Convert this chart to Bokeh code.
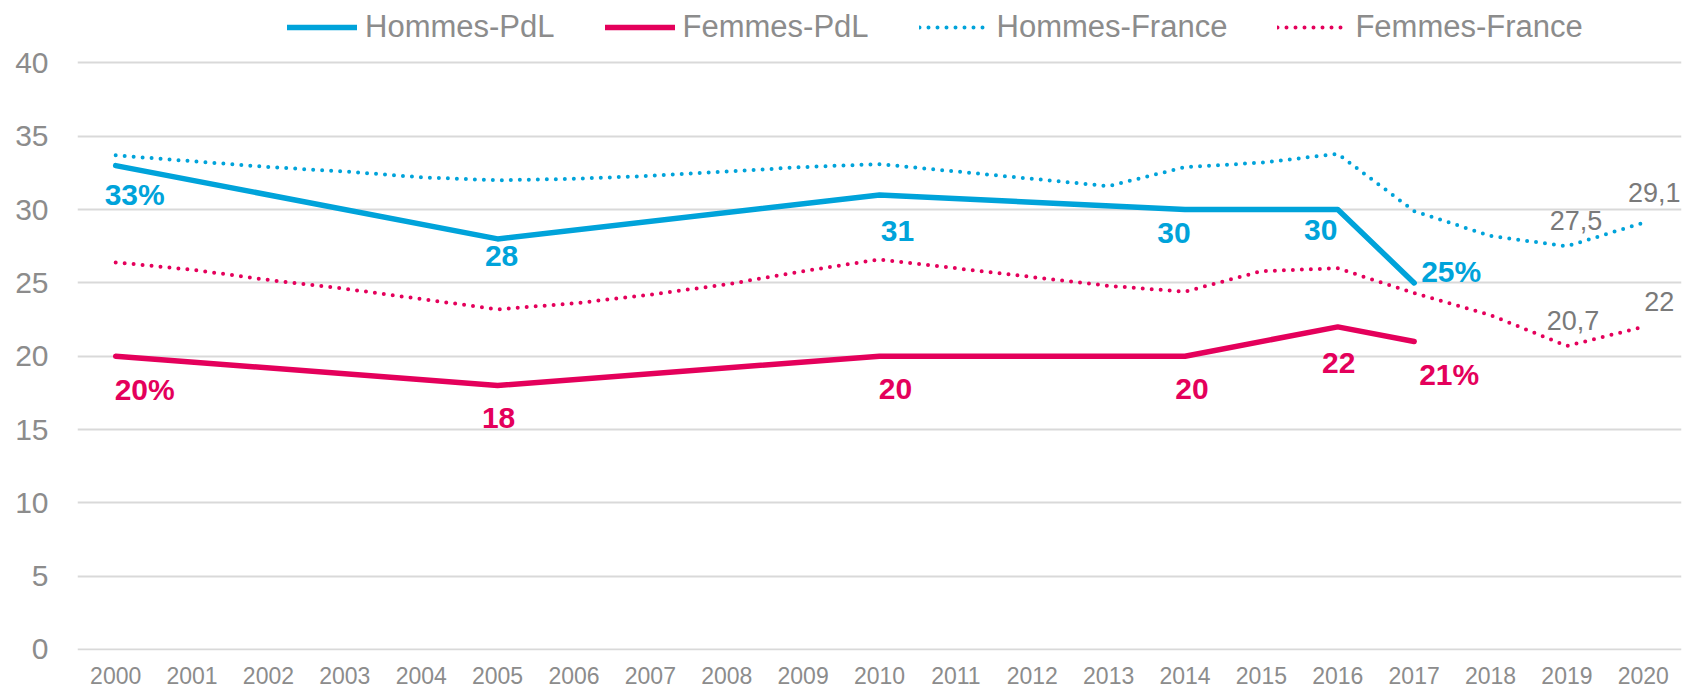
from bokeh.plotting import figure
from bokeh.models import FactorRange, Range1d, FixedTicker, Legend, LegendItem, ColumnDataSource
from bokeh.core.properties import value
from bokeh.embed import file_html
from bokeh.resources import INLINE

# ---------------- data ----------------
years = ["2000", "2001", "2002", "2003", "2004", "2005", "2006", "2007", "2008", "2009", "2010",
         "2011", "2012", "2013", "2014", "2015", "2016", "2017", "2018", "2019", "2020"]

pdl_years = ["2000", "2005", "2010", "2014", "2016", "2017"]
hommes_pdl = [33, 28, 31, 30, 30, 25]
femmes_pdl = [20, 18, 20, 20, 22, 21]

hommes_france = [33.7, 33.3, 32.9, 32.6, 32.2, 32.0, 32.1, 32.3, 32.6, 32.9, 33.1,
                 32.6, 32.1, 31.6, 32.9, 33.2, 33.8, 29.9, 28.2, 27.5, 29.1]
femmes_france = [26.4, 25.9, 25.2, 24.6, 23.9, 23.2, 23.6, 24.2, 24.9, 25.8, 26.6,
                 26.0, 25.4, 24.8, 24.4, 25.8, 26.0, 24.3, 22.8, 20.7, 22.0]

hommes_pdl_labels = ["33%", "28", "31", "30", "30", "25%"]
femmes_pdl_labels = ["20%", "18", "20", "20", "22", "21%"]

france_label_years = ["2019", "2020"]
hommes_france_labels = ["27,5", "29,1"]
hommes_france_label_values = [27.5, 29.1]
femmes_france_labels = ["20,7", "22"]
femmes_france_label_values = [20.7, 22.0]

y_ticks = [0, 5, 10, 15, 20, 25, 30, 35, 40]

# ---------------- styles ----------------
BLUE = "#00A3DA"
PINK = "#E4005B"
AXIS_GRAY = "#8C8C8C"
LABEL_GRAY = "#7A7A7A"
FONT = "Liberation Sans"

# label offsets (screen px, x right, y down)
hp_xo = [19, 4, 18, -11, -17, 37]
hp_yo = [29, 17, 36, 23, 20, -11]
fp_xo = [29, 1, 16, 7, 1, 35]
fp_yo = [33, 32, 33, 33, 36, 33]
hf_xo = [9, 11]
hf_yo = [-26, -30]
ff_xo = [6, 16]
ff_yo = [-25, -25]

# frame spans the whole height above the x axis; the space above 40 hosts the legend
p = figure(width=1682, height=689,
           x_range=FactorRange(factors=years, range_padding=0),
           y_range=Range1d(-0.07, 44.26),
           output_backend="svg", toolbar_location=None,
           min_border_left=77, min_border_right=1, min_border_top=0, min_border_bottom=39)
p.outline_line_color = None
p.background_fill_color = "white"
p.border_fill_color = "white"

p.xgrid.grid_line_color = None
p.ygrid.grid_line_color = "#D9D9D9"
p.ygrid.grid_line_width = 2
p.yaxis.ticker = FixedTicker(ticks=y_ticks)

for ax in (p.xaxis[0], p.yaxis[0]):
    ax.axis_line_color = None
    ax.major_tick_line_color = None
    ax.minor_tick_line_color = None
    ax.major_tick_out = 0
    ax.major_tick_in = 0
    ax.major_label_text_color = AXIS_GRAY
    ax.major_label_text_font = FONT
p.yaxis.major_label_text_font_size = "30px"
p.yaxis.major_label_standoff = 29
p.xaxis.major_label_text_font_size = "23px"
p.xaxis.major_label_standoff = 16

r_hf = p.line(x=years, y=hommes_france, line_color=BLUE, line_width=4,
              line_dash="0 9", line_cap="round")
r_ff = p.line(x=years, y=femmes_france, line_color=PINK, line_width=4,
              line_dash="0 9", line_cap="round")
r_hp = p.line(x=pdl_years, y=hommes_pdl, line_color=BLUE, line_width=5.5,
              line_join="round", line_cap="round")
r_fp = p.line(x=pdl_years, y=femmes_pdl, line_color=PINK, line_width=5.5,
              line_join="round", line_cap="round")


def add_labels(xs, ys, texts, xo, yo, color, bold, size):
    src = ColumnDataSource(dict(x=xs, y=ys, text=texts, xo=xo, yo=yo))
    p.text(x="x", y="y", text="text", x_offset="xo", y_offset="yo", source=src,
           text_align="center", text_baseline="middle",
           text_font=value(FONT), text_font_style="bold" if bold else "normal",
           text_font_size=size, text_color=color)


add_labels(pdl_years, hommes_pdl, hommes_pdl_labels, hp_xo, hp_yo, BLUE, True, "30px")
add_labels(pdl_years, femmes_pdl, femmes_pdl_labels, fp_xo, fp_yo, PINK, True, "30px")
add_labels(france_label_years, hommes_france_label_values, hommes_france_labels, hf_xo, hf_yo, LABEL_GRAY, False, "27px")
add_labels(france_label_years, femmes_france_label_values, femmes_france_labels, ff_xo, ff_yo, LABEL_GRAY, False, "27px")

legend = Legend(items=[
    LegendItem(label="Hommes-PdL", renderers=[r_hp]),
    LegendItem(label="Femmes-PdL", renderers=[r_fp]),
    LegendItem(label="Hommes-France", renderers=[r_hf]),
    LegendItem(label="Femmes-France", renderers=[r_ff]),
], orientation="horizontal", location=(210, 605), glyph_width=70, glyph_height=30,
    label_height=30, label_standoff=8, spacing=50, padding=0, margin=0,
    border_line_alpha=0, background_fill_alpha=0,
    label_text_font=FONT, label_text_font_size="31px", label_text_color=AXIS_GRAY)
p.add_layout(legend)

open("out.html", "w").write(file_html(p, INLINE))
